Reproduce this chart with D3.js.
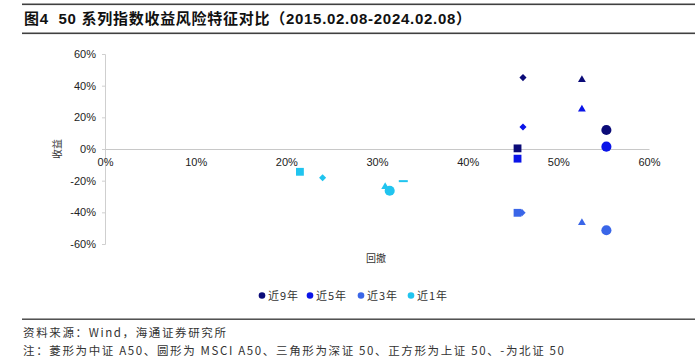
<!DOCTYPE html>
<html><head><meta charset="utf-8">
<script src="https://cdn.jsdelivr.net/npm/d3@7/dist/d3.min.js"></script>
<style>
html,body{margin:0;padding:0;background:#fff;}
svg{display:block;font-family:"Liberation Sans","Noto Sans CJK SC",Arial,sans-serif;}
text{white-space:pre;}
</style></head>
<body>
<svg id="c" width="700" height="361"></svg>
<script>
// ---- data ----
const periods = ["近9年", "近5年", "近3年", "近1年"];
const periodColors = ["#0b0b78", "#0a14e8", "#3a66e8", "#20c4ef"];
const indices = ["中证A50", "MSCI A50", "深证50", "上证50", "北证50"];
const shapes = ["diamond", "circle", "triangle", "square", "dash"];
// drawdown (%) and return (%) per period, by index
const drawdown9 = [46.1, 55.3, 52.6, 45.5, null];
const return9   = [45.1, 12.0, 43.7, 0.4, null];
const drawdown5 = [46.1, 55.3, 52.6, 45.5, null];
const return5   = [13.9, 1.5, 25.1, -6.1, null];
const drawdown3 = [46.0, 55.3, 52.6, 45.5, null];
const return3   = [-40.2, -51.3, -46.6, -40.3, null];
const drawdown1 = [24.0, 31.4, 30.9, 21.5, 32.9];
const return1   = [-18.2, -26.4, -23.9, -14.4, -20.3];
const xTicks = [0, 10, 20, 30, 40, 50, 60];
const yTicks = [-60, -40, -20, 0, 20, 40, 60];

const allDD = [drawdown9, drawdown5, drawdown3, drawdown1];
const allRet = [return9, return5, return3, return1];
const points = [];
periods.forEach((p, pi) => {
  indices.forEach((ix, ii) => {
    if (allDD[pi][ii] != null) points.push({period: pi, index: ii, x: allDD[pi][ii], y: allRet[pi][ii]});
  });
});

const svg = d3.select("#c");
const cjk = '"Noto Sans CJK SC","Liberation Sans",sans-serif';

// title & rules
svg.append("rect").attr("x", 22).attr("y", 3.5).attr("width", 673).attr("height", 1.6).attr("fill", "#404040");
svg.append("rect").attr("x", 22).attr("y", 32.5).attr("width", 673).attr("height", 1.6).attr("fill", "#404040");
svg.append("text").attr("x", 24).attr("y", 24).attr("font-size", 15).attr("font-weight", "bold")
  .attr("fill", "#111").attr("textLength", 447).attr("lengthAdjust", "spacing")
  .style("font-family", '"Liberation Sans","Noto Sans CJK SC",sans-serif')
  .text("图4  50 系列指数收益风险特征对比（2015.02.08-2024.02.08）");

// scales
const x = d3.scaleLinear().domain([0, 60]).range([105, 649]);
const y = d3.scaleLinear().domain([-60, 60]).range([244, 54]);

// y axis
const yAxis = d3.axisLeft(y).tickValues(yTicks).tickSize(3).tickPadding(6).tickFormat(d => d + "%");
const gy = svg.append("g").attr("transform", `translate(${x(0)},0)`).call(yAxis);
gy.select(".domain").attr("stroke", "#cfcfcf");
gy.selectAll(".tick line").attr("stroke", "#cfcfcf");
gy.selectAll(".tick text").attr("font-size", 11).attr("fill", "#222").style("font-family", '"Liberation Sans",Arial,sans-serif');

// x axis at y=0
const xAxis = d3.axisBottom(x).tickValues(xTicks).tickSize(0).tickPadding(9).tickFormat(d => d + "%");
const gx = svg.append("g").attr("transform", `translate(0,${y(0)})`).call(xAxis);
gx.select(".domain").attr("stroke", "#c8c8c8");
gx.selectAll(".tick text").attr("font-size", 11).attr("fill", "#222").style("font-family", '"Liberation Sans",Arial,sans-serif');

// axis titles
svg.append("text").attr("transform", `translate(61,${y(0)}) rotate(-90)`).attr("text-anchor", "middle")
  .attr("font-size", 10).attr("fill", "#333").style("font-family", cjk).text("收益");
svg.append("text").attr("x", 376).attr("y", 262).attr("text-anchor", "middle")
  .attr("font-size", 10).attr("fill", "#333").style("font-family", cjk).text("回撤");

// markers
const sym = {
  diamond: d3.symbol().type(d3.symbolDiamond2).size(32),
  circle: d3.symbol().type(d3.symbolCircle).size(80),
  triangle: d3.symbol().type(d3.symbolTriangle2).size(44),
  square: d3.symbol().type(d3.symbolSquare2).size(78)
};
const order = [0, 1, 2, 4, 3];
const gp = svg.append("g");
order.forEach(ii => {
  points.filter(d => d.index === ii).forEach(d => {
    const s = shapes[d.index];
    const cx = x(d.x), cy = y(d.y);
    if (s === "dash") {
      gp.append("rect").attr("x", cx - 4.5).attr("y", cy - 1).attr("width", 9).attr("height", 2)
        .attr("fill", periodColors[d.period]);
    } else {
      gp.append("path").attr("d", sym[s]()).attr("transform", `translate(${cx},${cy})`)
        .attr("fill", periodColors[d.period]);
    }
  });
});

// legend
const legendX = [262, 310, 361, 411];
const lg = svg.append("g");
periods.forEach((p, i) => {
  lg.append("circle").attr("cx", legendX[i]).attr("cy", 295.5).attr("r", 3.3).attr("fill", periodColors[i]);
  lg.append("text").attr("x", legendX[i] + 6).attr("y", 299.5).attr("font-size", 11).attr("fill", "#333")
    .attr("textLength", 30).attr("lengthAdjust", "spacing")
    .style("font-family", cjk).text(p);
});

// footer
svg.append("rect").attr("x", 22).attr("y", 318.5).attr("width", 673).attr("height", 1.4).attr("fill", "#404040");
svg.append("text").attr("x", 23).attr("y", 337).attr("font-size", 11.5).attr("fill", "#333")
  .attr("textLength", 203).attr("lengthAdjust", "spacing")
  .style("font-family", cjk).text("资料来源：Wind，海通证券研究所");
svg.append("text").attr("x", 23).attr("y", 355).attr("font-size", 11.5).attr("fill", "#333")
  .attr("textLength", 541).attr("lengthAdjust", "spacing")
  .style("font-family", cjk).text("注：菱形为中证 A50、圆形为 MSCI A50、三角形为深证 50、正方形为上证 50、-为北证 50");
</script>
</body></html>
